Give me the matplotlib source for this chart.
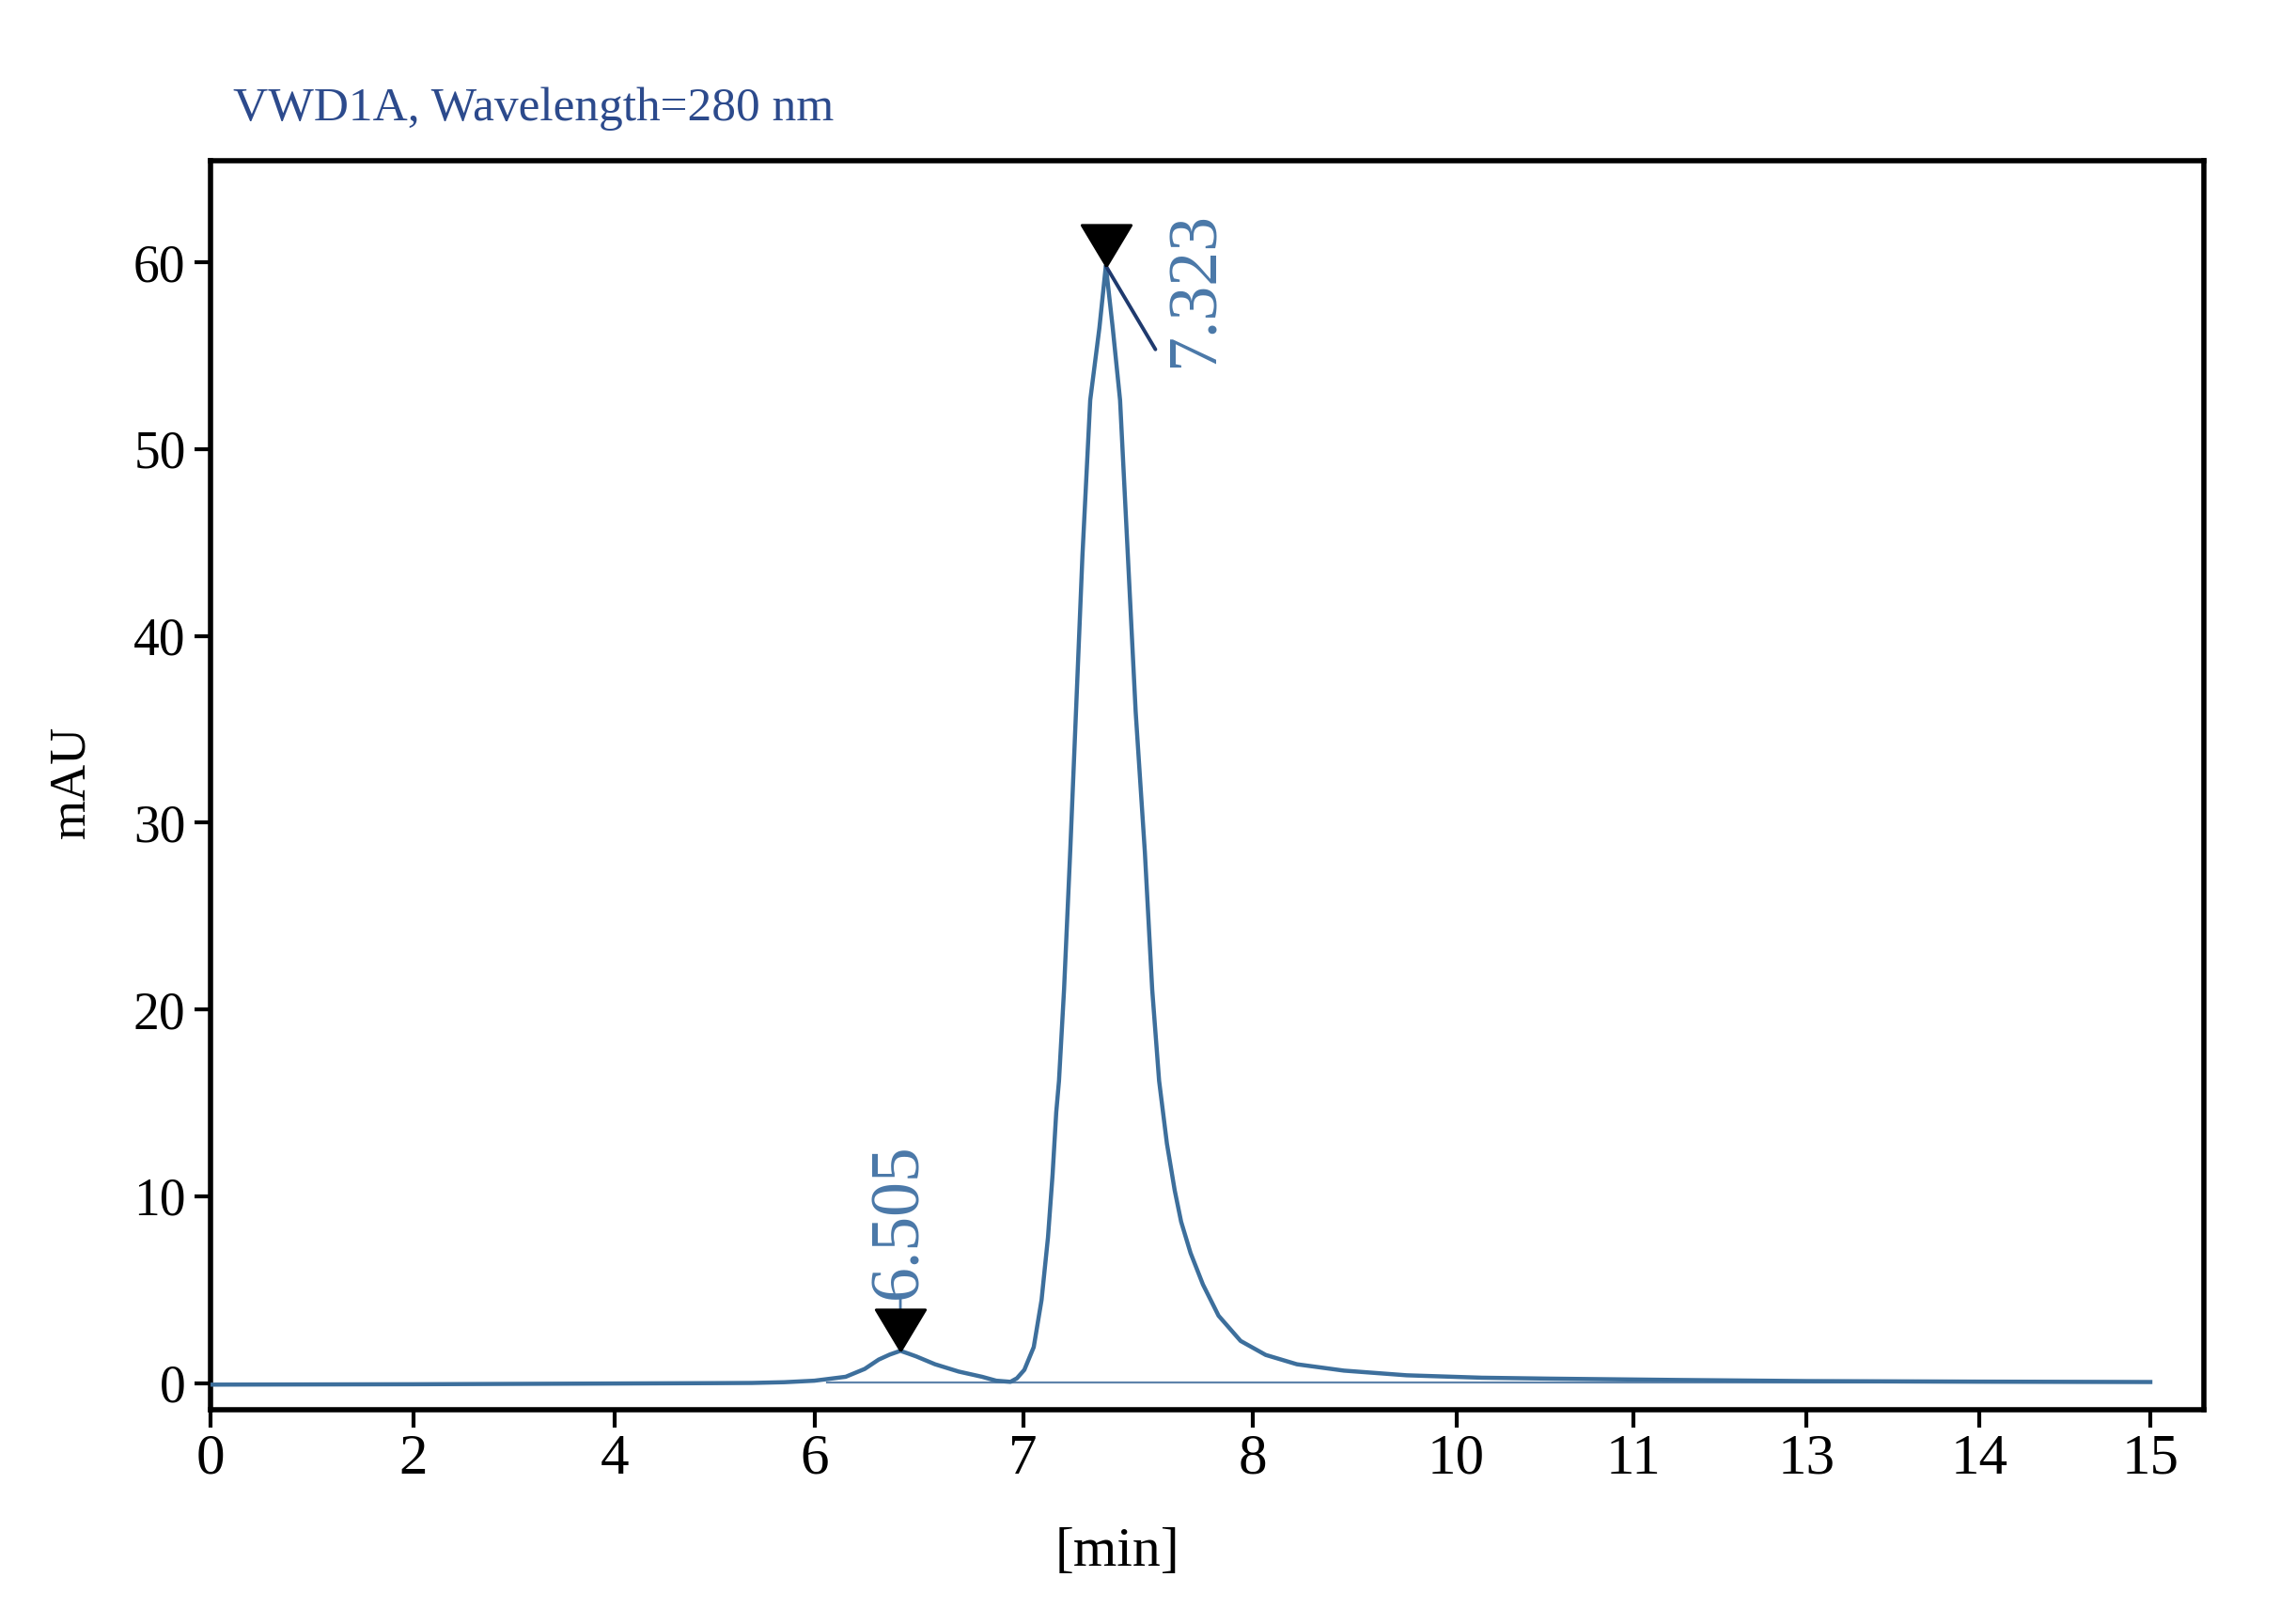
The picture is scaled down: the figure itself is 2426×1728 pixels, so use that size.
import numpy as np
import matplotlib
matplotlib.use('Agg')
import matplotlib.pyplot as plt

# chromatogram trace: retention time [min], signal [mAU]
time_min = [0, 1, 2, 3, 4, 5, 5.374, 5.7, 6.0, 6.15, 6.241, 6.308, 6.361, 6.412,
            6.451, 6.488, 6.578, 6.691, 6.803, 6.871, 6.939, 6.970, 7.005, 7.046,
            7.080, 7.108, 7.128, 7.144, 7.156, 7.178, 7.205, 7.230, 7.258, 7.292,
            7.332, 7.360, 7.390, 7.422, 7.456, 7.490, 7.530, 7.562, 7.592, 7.626,
            7.660, 7.688, 7.729, 7.783, 7.851, 7.947, 8.127, 8.434, 8.896, 9.512,
            10.144, 10.533, 11.5, 13, 14, 15]
signal_mau = [-0.09, -0.08, -0.07, -0.05, -0.03, -0.01, 0.0, 0.04, 0.12, 0.33,
              0.75, 1.25, 1.52, 1.72, 1.57, 1.42, 1.0, 0.61, 0.33, 0.12, 0.06,
              0.25, 0.70, 1.92, 4.44, 7.79, 11.15, 14.50, 16.18, 21.06, 28.5,
              35.93, 44.28, 52.63, 56.5, 59.82, 56.5, 52.63, 44.28, 35.93, 28.42,
              21.06, 16.18, 12.82, 10.31, 8.63, 6.96, 5.27, 3.60, 2.25, 1.50,
              1.00, 0.66, 0.41, 0.28, 0.23, 0.16, 0.10, 0.07, 0.05]

# integration baseline
base_time = [6.06, 15.0]
base_mau = [0.04, 0.04]

# peaks
peak_time = [6.412, 7.360]
peak_mau = [1.72, 59.82]
peak_labels = ['6.505', '7.323']

# x ticks as printed, and where they sit on the original image (px)
xtick_vals = [0, 2, 4, 6, 7, 8, 10, 11, 13, 14, 15]
xtick_px = [224, 439.5, 654, 866.5, 1088.7, 1333, 1549.5, 1738, 1922.4, 2106, 2288]
yticks = [0, 10, 20, 30, 40, 50, 60]

SERIF = 'Liberation Serif'
LINE_C = '#3d6f9c'
LABEL_C = '#4a78a8'
TITLE_C = '#2c4a8c'

W, H, DPI = 2426, 1728, 200
fig = plt.figure(figsize=(W / DPI, H / DPI), dpi=DPI)
fig.patch.set_facecolor('white')

ax_l, ax_r, ax_t, ax_b = 224, 2345, 171, 1500
ax = fig.add_axes([ax_l / W, 1 - ax_b / H, (ax_r - ax_l) / W, (ax_b - ax_t) / H])

# piecewise axis: the printed tick values are not evenly spaced
sv = np.array(xtick_vals + [16.0], dtype=float)
sp = np.array(xtick_px + [2 * xtick_px[-1] - xtick_px[-2]], dtype=float)


def fwd(t):
    return np.interp(t, sv, sp)


def inv(p):
    return np.interp(p, sp, sv)


ax.set_xscale('function', functions=(fwd, inv))

ax.plot(base_time, base_mau, color='#5f84ab', lw=0.8, zorder=2)
ax.plot(time_min, signal_mau, color=LINE_C, lw=1.6, zorder=3,
        solid_joinstyle='round')

# peak markers (tip on the apex) with labels
tri = [(0, 0), (-0.6, 1), (0.6, 1), (0, 0)]
ax.plot(peak_time, peak_mau, ls='none', marker=tri, ms=31.5,
        color='black', mec='black', zorder=5)

# leader lines
ax.annotate('', xy=(peak_time[0], peak_mau[0]), xytext=(0, 21),
            textcoords='offset points',
            arrowprops=dict(arrowstyle='-', color=LABEL_C, lw=1.0,
                            shrinkA=0, shrinkB=0), zorder=4)
ax.annotate('', xy=(peak_time[1], peak_mau[1]), xytext=(19, -32),
            textcoords='offset points',
            arrowprops=dict(arrowstyle='-', color='#1f3a6e', lw=1.4,
                            shrinkA=0, shrinkB=0), zorder=4)

label_offsets = [(0, 20), (34.5, -39)]
for t, v, lab, off in zip(peak_time, peak_mau, peak_labels, label_offsets):
    ax.annotate(lab, xy=(t, v), xytext=off, textcoords='offset points',
                rotation=90, ha='center', va='bottom', color=LABEL_C,
                fontsize=26.5, family=SERIF)

ax.set_xlim(0, inv(ax_r))
ax.set_ylim(-1.434, 65.45)
ax.set_xticks(xtick_vals)
ax.set_xticklabels([str(v) for v in xtick_vals])
ax.set_yticks(yticks)
ax.minorticks_off()

ax.tick_params(axis='x', direction='out', length=7, width=1.5, pad=2,
               labelsize=22)
ax.tick_params(axis='y', direction='out', length=6, width=1.5, pad=3.5,
               labelsize=20)
for lab in ax.get_xticklabels() + ax.get_yticklabels():
    lab.set_family(SERIF)

for sp_ in ax.spines.values():
    sp_.set_linewidth(2.0)
    sp_.set_color('black')

ax.set_xlabel('[min]', fontsize=21.5, family=SERIF)
ax.xaxis.set_label_coords(0.4548, -0.094)
ax.set_ylabel('mAU', fontsize=19.5, family=SERIF)
ax.yaxis.set_label_coords(-0.058, 0.5026)

fig.text(248 / W, 1 - 128 / H, 'VWD1A, Wavelength=280 nm', color=TITLE_C,
         fontsize=18.5, family=SERIF, ha='left', va='baseline')

plt.savefig('out.png', dpi=DPI, facecolor='white')
